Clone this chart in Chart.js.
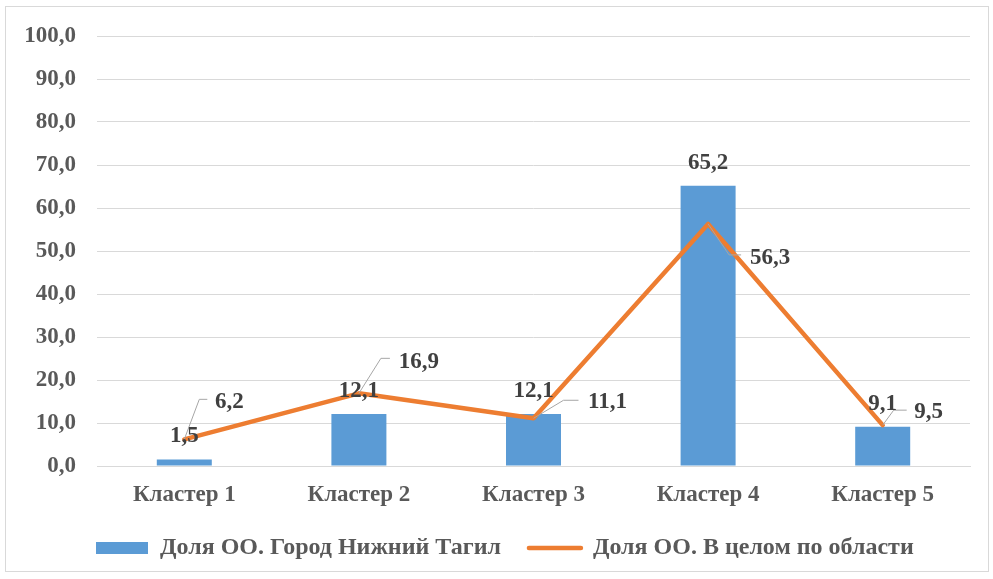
<!DOCTYPE html>
<html>
<head>
<meta charset="utf-8">
<script src="https://cdn.jsdelivr.net/npm/chart.js@4"></script>
<style>
  html, body { margin: 0; padding: 0; background: #fff; }
  #wrap { width: 993px; height: 579px; position: relative; }
</style>
</head>
<body>
<div id="wrap"><canvas id="chart"></canvas></div>
<script>
const categories = ["Кластер 1", "Кластер 2", "Кластер 3", "Кластер 4", "Кластер 5"];
const cityValues = [1.5, 12.1, 12.1, 65.2, 9.1];
const regionValues = [6.2, 16.9, 11.1, 56.3, 9.5];
const cityLabel = "Доля ОО. Город Нижний Тагил";
const regionLabel = "Доля ОО. В целом по области";

// label placement (pixel offsets from the point), [elbow, end, text]
const regionLabelOffsets = [
  { elbow: [15, -40], end: [23, -40], text: [45, -37] },
  { elbow: [22, -35], end: [31, -35], text: [60, -31] },
  { elbow: [30, -18], end: [45, -18], text: [74, -16] },
  { elbow: [21, 31], end: [33, 31], text: [62, 34] },
  { elbow: [11, -15], end: [24, -15], text: [46, -13] },
];

const BLUE = "#5B9BD5", ORANGE = "#ED7D31";
const SERIF = "'Liberation Serif', 'Times New Roman', serif";
const LEGEND_PAD = 28;
const fmt = v => v.toFixed(1).replace(".", ",");

const frame = {
  id: "frame",
  beforeDraw(chart) {
    const c = chart.ctx;
    c.save();
    c.strokeStyle = "#d9d9d9";
    c.lineWidth = 1;
    c.strokeRect(5.5, 6.5, 983, 565);
    c.restore();
  },
  afterLayout(chart) {
    // Excel puts the legend a bit left of centre
    const lg = chart.legend;
    const shift = (96 - LEGEND_PAD) - lg.left;
    lg.left += shift;
    lg.right += shift;
  },
};

const valueLabels = {
  id: "valueLabels",
  afterDatasetsDraw(chart) {
    const c = chart.ctx;
    c.save();
    const lineMeta = chart.getDatasetMeta(1);
    c.strokeStyle = "#a6a6a6";
    c.lineWidth = 1;
    lineMeta.data.forEach((pt, i) => {
      const o = regionLabelOffsets[i];
      c.beginPath();
      c.moveTo(pt.x, pt.y);
      c.lineTo(pt.x + o.elbow[0], pt.y + o.elbow[1]);
      c.lineTo(pt.x + o.end[0], pt.y + o.end[1]);
      c.stroke();
    });
    c.fillStyle = "#404040";
    c.font = "bold 23px " + SERIF;
    c.textAlign = "center";
    c.textBaseline = "middle";
    chart.getDatasetMeta(0).data.forEach((bar, i) => {
      c.fillText(fmt(cityValues[i]), bar.x, bar.y - 23);
    });
    lineMeta.data.forEach((pt, i) => {
      const o = regionLabelOffsets[i];
      c.fillText(fmt(regionValues[i]), pt.x + o.text[0], pt.y + o.text[1]);
    });
    c.restore();
  },
};

new Chart(document.getElementById("chart"), {
  data: {
    labels: categories,
    datasets: [
      {
        type: "bar",
        label: cityLabel,
        data: cityValues,
        backgroundColor: BLUE,
        categoryPercentage: 1,
        barPercentage: 0.315,
        order: 2,
      },
      {
        type: "line",
        label: regionLabel,
        data: regionValues,
        borderColor: ORANGE,
        borderWidth: 4.5,
        borderJoinStyle: "round",
        borderCapStyle: "round",
        pointRadius: 0,
        tension: 0,
        order: 1,
      },
    ],
  },
  options: {
    responsive: true,
    maintainAspectRatio: false,
    animation: false,
    layout: { padding: { top: 36, right: 23, left: 0, bottom: 9 } },
    plugins: {
      tooltip: { enabled: false },
      legend: {
        position: "bottom",
        align: "start",
        labels: {
          usePointStyle: true,
          pointStyleWidth: 52,
          boxHeight: 12,
          padding: LEGEND_PAD,
          color: "#595959",
          font: { family: SERIF, size: 24, weight: "bold" },
          generateLabels: () => [
            { text: cityLabel, fillStyle: BLUE, strokeStyle: BLUE, lineWidth: 0, pointStyle: "rect", datasetIndex: 0, fontColor: "#595959" },
            { text: regionLabel, fillStyle: ORANGE, strokeStyle: ORANGE, lineWidth: 4.5, lineCap: "round", pointStyle: "line", datasetIndex: 1, fontColor: "#595959" },
          ],
        },
      },
    },
    scales: {
      x: {
        grid: { display: false, drawTicks: false },
        border: { color: "#d9d9d9" },
        ticks: { color: "#595959", padding: 15, font: { family: SERIF, size: 23, weight: "bold" } },
        afterFit: s => { s.height = 70 - LEGEND_PAD; },
      },
      y: {
        min: 0,
        max: 100,
        ticks: {
          stepSize: 10,
          padding: 21,
          color: "#595959",
          font: { family: SERIF, size: 23, weight: "bold" },
          callback: v => fmt(v),
        },
        grid: { color: "#d9d9d9", drawTicks: false },
        border: { display: false },
        afterFit: s => { s.width = 97; },
      },
    },
  },
  plugins: [frame, valueLabels],
});
</script>
</body>
</html>
